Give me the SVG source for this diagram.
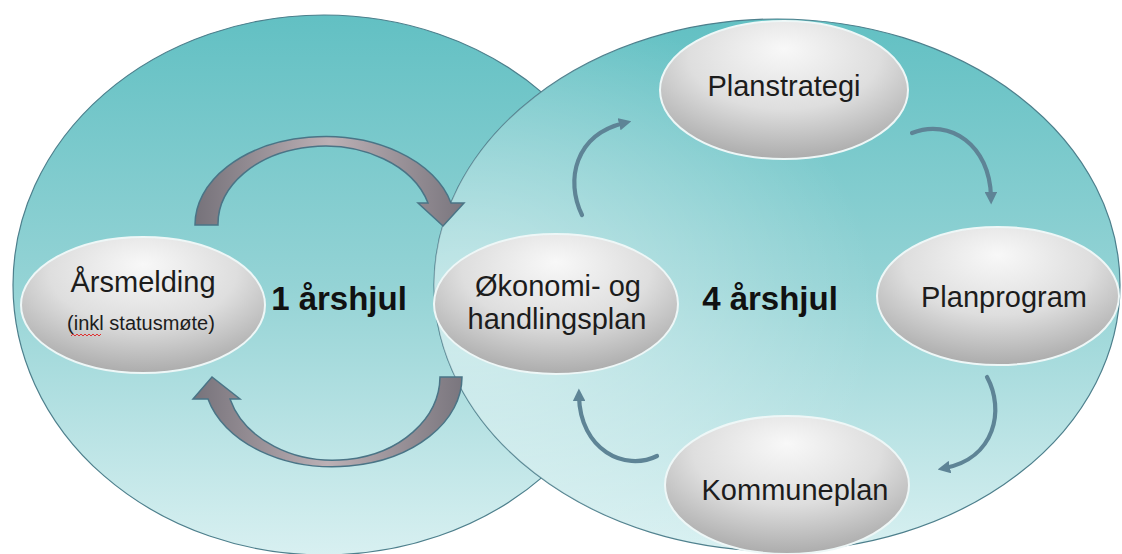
<svg xmlns="http://www.w3.org/2000/svg" width="1122" height="554" viewBox="0 0 1122 554">
<defs>
<linearGradient id="bgGrad" x1="0" y1="0" x2="0" y2="1">
<stop offset="0" stop-color="#62c0c3"/>
<stop offset="0.5" stop-color="#94d3d5"/>
<stop offset="1" stop-color="#d8f0f1"/>
</linearGradient>
<radialGradient id="hiGrad" cx="0.05" cy="0.55" r="0.6">
<stop offset="0" stop-color="#ffffff" stop-opacity="0.5"/>
<stop offset="1" stop-color="#ffffff" stop-opacity="0"/>
</radialGradient>
<radialGradient id="nodeGrad" cx="0.5" cy="0.3" r="0.7" fx="0.5" fy="0.2">
<stop offset="0" stop-color="#f8f8f8"/>
<stop offset="0.55" stop-color="#dedede"/>
<stop offset="1" stop-color="#acacac"/>
</radialGradient>
<linearGradient id="bigArrowGrad" x1="0" y1="0" x2="1" y2="0">
<stop offset="0" stop-color="#76727a"/>
<stop offset="0.5" stop-color="#bcb0b5"/>
<stop offset="1" stop-color="#7a767e"/>
</linearGradient>
<marker id="smallHead" viewBox="0 0 10 10" refX="4" refY="5" markerWidth="3" markerHeight="3" orient="auto" markerUnits="strokeWidth">
<path d="M0,0 L10,5 L0,10 z" fill="#5e8496"/>
</marker>
<style>
.circle{stroke:#4d7f8c;stroke-width:1.2;}
.node{fill:url(#nodeGrad);stroke:#eef7f7;stroke-width:2;}
.lbl{font-family:"Liberation Sans",Arial,sans-serif;font-size:29px;fill:#1c1c1c;text-anchor:middle;}
.small{font-size:20px;}
.big{font-family:"Liberation Sans",Arial,sans-serif;font-size:33px;font-weight:bold;fill:#111;text-anchor:middle;}
.bigArrow{fill:url(#bigArrowGrad);stroke:#4a7486;stroke-width:1.5;}
.smallArrow{fill:none;stroke:#5e8496;stroke-width:4.2;stroke-linecap:round;marker-end:url(#smallHead);}
</style>
</defs>

<g id="wheel-1">
<ellipse class="circle" cx="324" cy="285" rx="311" ry="270" fill="url(#bgGrad)"/>
</g>
<g id="wheel-4">
<ellipse class="circle" cx="777" cy="285" rx="343" ry="266" fill="url(#bgGrad)"/>
<ellipse cx="777" cy="285" rx="343" ry="266" fill="url(#hiGrad)"/>
</g>

<g id="connectors">
<path class="bigArrow" d="M195,225 A130 88 0 0 1 451,203 L464,203 L443,226 L418,203 L428,203 A107 78 0 0 0 218,225 Z"/>
<path class="bigArrow" d="M462,377 A129 90 0 0 1 208,399 L193,399 L212,377 L240,399 L230,399 A107 84 0 0 0 440,377 Z"/>
<path class="smallArrow" d="M582,215 C565,180 575,135 624,123"/>
<path class="smallArrow" d="M912,133 C950,118 990,145 991,197"/>
<path class="smallArrow" d="M987,377 C1005,410 995,458 945,468"/>
<path class="smallArrow" d="M657,456 C625,472 580,450 579,396"/>
</g>

<g id="label-1-arshjul">
<text class="big" x="339" y="310">1 årshjul</text>
</g>
<g id="label-4-arshjul">
<text class="big" x="770" y="310">4 årshjul</text>
</g>

<g id="node-arsmelding">
<ellipse class="node" cx="143" cy="305" rx="122" ry="68"/>
<text class="lbl" x="143" y="292">Årsmelding</text>
<text class="lbl small" x="141" y="330">(inkl statusmøte)</text>
<path d="M71,336 l2,-2 l2,2 l2,-2 l2,2 l2,-2 l2,2 l2,-2 l2,2 l2,-2 l2,2 l2,-2 l2,2 l2,-2 l2,2 l2,-2" fill="none" stroke="#e03030" stroke-width="1"/>
</g>

<g id="node-okonomi">
<ellipse class="node" cx="556" cy="304" rx="122" ry="70"/>
<text class="lbl" x="558" y="296">Økonomi- og</text>
<text class="lbl" x="557" y="329">handlingsplan</text>
</g>

<g id="node-planstrategi">
<ellipse class="node" cx="784" cy="90" rx="124" ry="69"/>
<text class="lbl" x="784" y="96">Planstrategi</text>
</g>

<g id="node-planprogram">
<ellipse class="node" cx="998" cy="296" rx="121" ry="69"/>
<text class="lbl" x="1004" y="307">Planprogram</text>
</g>

<g id="node-kommuneplan">
<ellipse class="node" cx="787" cy="485" rx="122" ry="69"/>
<text class="lbl" x="795" y="500">Kommuneplan</text>
</g>
</svg>
